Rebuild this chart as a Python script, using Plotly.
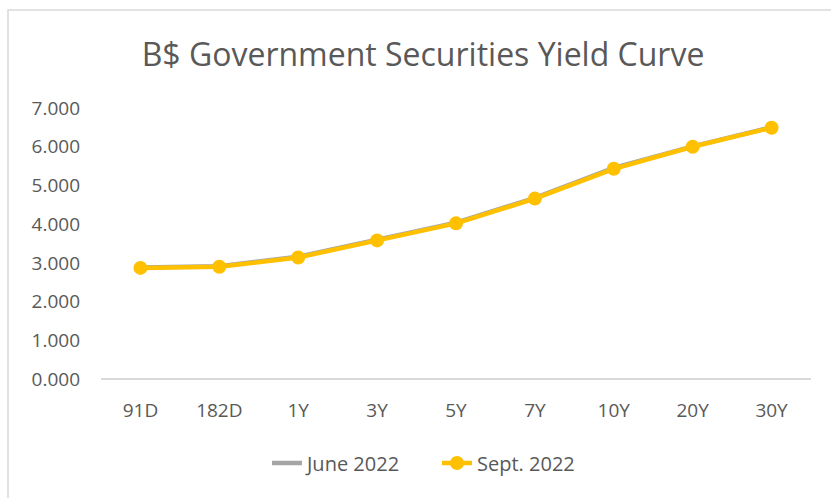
import plotly.graph_objects as go

categories = ["91D", "182D", "1Y", "3Y", "5Y", "7Y", "10Y", "20Y", "30Y"]
june_2022 = [2.88, 2.91, 3.16, 3.60, 4.04, 4.68, 5.45, 6.01, 6.50]
sept_2022 = [2.87, 2.90, 3.14, 3.58, 4.02, 4.66, 5.43, 6.00, 6.49]
y_ticks = [0, 1, 2, 3, 4, 5, 6, 7]
y_labels = ["0.000", "1.000", "2.000", "3.000", "4.000", "5.000", "6.000", "7.000"]

W, H = 831, 498
L, R, T, B = 101, 20, 108, 119
pw, ph = W - L - R, H - T - B

def px(x):
    return (x - L) / pw

def py(y):
    return (H - B - y) / ph

fig = go.Figure()
fig.add_trace(go.Scatter(
    x=categories, y=june_2022, name="June 2022", mode="lines",
    line=dict(color="#a5a5a5", width=4.5),
))
fig.add_trace(go.Scatter(
    x=categories, y=sept_2022, name="Sept. 2022", mode="lines+markers",
    line=dict(color="#ffc000", width=4.5),
    marker=dict(color="#ffc000", size=14),
))

fig.update_layout(
    width=W, height=H,
    margin=dict(l=L, r=R, t=T, b=B),
    paper_bgcolor="white", plot_bgcolor="white",
    font=dict(family="Open Sans", color="#595959", size=19),
    title=dict(text="B$ Government Securities Yield Curve", x=px(423), xanchor="center",
               xref="paper", y=1 - 55 / H, yanchor="middle",
               font=dict(size=32, color="#595959", family="Open Sans")),
    xaxis=dict(showgrid=False, showline=False, ticks="", zeroline=False, automargin=False,
               range=[-0.5, len(categories) - 0.5],
               tickfont=dict(size=19, color="#595959"), ticklabelstandoff=18),
    yaxis=dict(range=[0, 7], tickvals=y_ticks, ticktext=y_labels, showgrid=False,
               zeroline=True, zerolinecolor="#d9d9d9", zerolinewidth=1.5, automargin=False,
               showline=False, ticks="", tickfont=dict(size=19, color="#595959"),
               ticklabelstandoff=20),
    legend=dict(orientation="h", x=px(437), xanchor="center", y=py(463), yanchor="middle",
                font=dict(size=20, color="#595959"), entrywidth=125, entrywidthmode="pixels"),
    showlegend=True,
)
fig.add_shape(type="rect", xref="paper", yref="paper",
              x0=px(8), x1=px(840), y0=py(510), y1=py(10),
              line=dict(color="#d9d9d9", width=1.5), fillcolor="rgba(0,0,0,0)", layer="below")

fig.write_html("out.html")
